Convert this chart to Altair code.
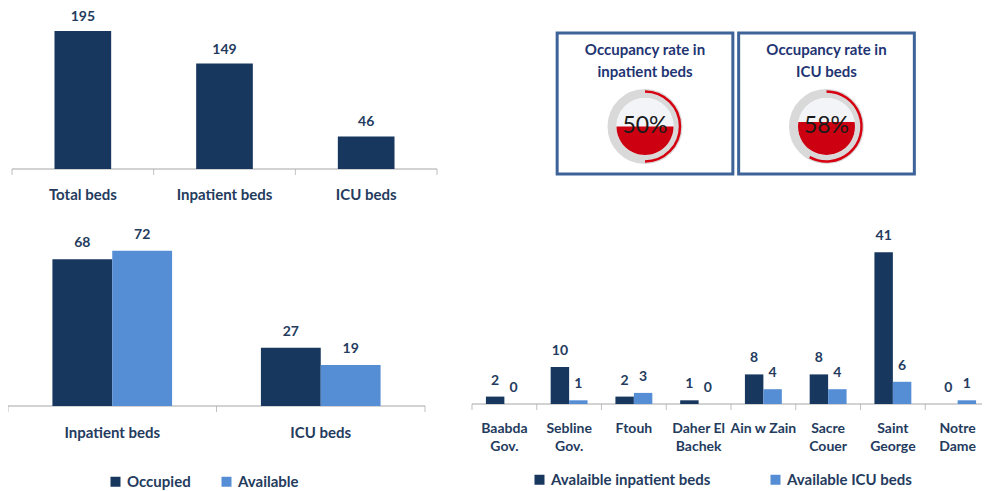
import math
import altair as alt
import pandas as pd

# ---------------- data ----------------
summary_cats = ["Total beds", "Inpatient beds", "ICU beds"]
summary_vals = [195, 149, 46]

status_groups = ["Inpatient beds", "ICU beds"]
status_names = ["Occupied", "Available"]
occupied_vals = [68, 27]
available_vals = [72, 19]

hospitals = ["Baabda\nGov.", "Sebline\nGov.", "Ftouh", "Daher El\nBachek",
             "Ain w Zain", "Sacre\nCouer", "Saint\nGeorge", "Notre\nDame"]
series_names = ["Avalaible inpatient beds", "Available ICU beds"]
inpatient_avail = [2, 10, 2, 1, 8, 8, 41, 0]
icu_avail = [0, 1, 3, 0, 4, 4, 6, 1]

gauge_titles = ["Occupancy rate in\ninpatient beds", "Occupancy rate in\nICU beds"]
gauge_rates = [50, 58]

# ---------------- style ----------------
FONT = "Lato"
DARK = "#17375E"
LIGHT = "#558ED5"
TEXT = "#243B5E"
TITLE = "#1F3573"
AXIS = "#A6A6A6"
BOX = "#3D6399"
W, H = 974, 483

VALUE_STYLE = dict(font=FONT, fontSize=14, fontWeight="bold", color=TEXT, baseline="middle")


def cat_style(size):
    return dict(font=FONT, fontSize=size, fontWeight="bold", color=TEXT, baseline="top",
                lineBreak="\n", lineHeight=18)


def axis_layers(n, x_range, ys):
    bx = alt.Scale(domain=[0, n], range=x_range)
    one = pd.DataFrame({"b": [0]})
    bounds = pd.DataFrame({"b": list(range(n + 1))})
    line = alt.Chart(one).mark_rule(color=AXIS, strokeWidth=1).encode(
        x=alt.XDatum(0, type="quantitative", scale=bx, axis=None),
        x2=alt.X2Datum(n),
        y=alt.YDatum(0, type="quantitative", scale=ys, axis=None),
    )
    ticks = alt.Chart(bounds).mark_tick(orient="vertical", size=6, thickness=1,
                                         color=AXIS, yOffset=3).encode(
        x=alt.X("b:Q", scale=bx, axis=None),
        y=alt.YDatum(0, type="quantitative", scale=ys, axis=None),
    )
    return [line, ticks]


layers = []

# ---------- top-left: totals ----------
tl_df = pd.DataFrame({"cat": summary_cats, "beds": summary_vals})
tl_x = alt.Scale(domain=summary_cats, range=[4, 429], paddingInner=0.6, paddingOuter=0.3)
tl_y = alt.Scale(domain=[0, 200], range=[161, 19.4])
layers += axis_layers(3, [4, 429], tl_y)
layers.append(alt.Chart(tl_df).mark_bar(color=DARK).encode(
    x=alt.X("cat:N", scale=tl_x, axis=None),
    y=alt.Y("beds:Q", scale=tl_y, axis=None)))
layers.append(alt.Chart(tl_df).mark_text(dy=-14, **VALUE_STYLE).encode(
    x=alt.X("cat:N", scale=tl_x, axis=None),
    y=alt.Y("beds:Q", scale=tl_y, axis=None),
    text="beds:Q"))
layers.append(alt.Chart(tl_df).mark_text(dy=19, **cat_style(15)).encode(
    x=alt.X("cat:N", scale=tl_x, axis=None),
    y=alt.YDatum(0, type="quantitative", scale=tl_y, axis=None),
    text="cat:N"))


# ---------- grouped panels ----------
def grouped(groups, names, a_vals, b_vals, x_range, pin, y_dom, y_range, dy_cat, cat_size,
            legend):
    rows = []
    for g, a, b in zip(groups, a_vals, b_vals):
        rows.append({"grp": g, "series": names[0], "beds": a})
        rows.append({"grp": g, "series": names[1], "beds": b})
    df = pd.DataFrame(rows)
    gdf = pd.DataFrame({"grp": groups})
    xs = alt.Scale(domain=groups, range=x_range, paddingInner=pin, paddingOuter=pin / 2)
    ys = alt.Scale(domain=y_dom, range=y_range)
    xo = alt.Scale(domain=names, paddingInner=0, paddingOuter=0)
    xo_pt = alt.Scale(type="point", domain=names, padding=0.5)
    out = axis_layers(len(groups), x_range, ys)
    out.append(alt.Chart(df).mark_bar().encode(
        x=alt.X("grp:N", scale=xs, axis=None),
        xOffset=alt.XOffset("series:N", scale=xo),
        y=alt.Y("beds:Q", scale=ys, axis=None),
        color=alt.Color("series:N", scale=alt.Scale(domain=names, range=[DARK, LIGHT]),
                        legend=legend)))
    out.append(alt.Chart(df).mark_text(dy=-16, **VALUE_STYLE).encode(
        x=alt.X("grp:N", scale=xs, axis=None),
        xOffset=alt.XOffset("series:N", scale=xo_pt),
        y=alt.Y("beds:Q", scale=ys, axis=None),
        text="beds:Q"))
    out.append(alt.Chart(gdf).mark_text(dy=dy_cat, **cat_style(cat_size)).encode(
        x=alt.X("grp:N", scale=xs, axis=None),
        y=alt.YDatum(0, type="quantitative", scale=ys, axis=None),
        text="grp:N"))
    return out


def make_legend(x, y, colpad):
    return alt.Legend(orient="none", legendX=x, legendY=y, direction="horizontal",
                      title=None, symbolType="square", symbolSize=100,
                      symbolStrokeWidth=0, labelFont=FONT, labelFontSize=15,
                      labelFontWeight="bold", labelColor=TEXT, columnPadding=colpad,
                      labelOffset=4, padding=0)


layers += grouped(status_groups, status_names, occupied_vals, available_vals,
                  [0, 417], 0.426, [0, 80], [398, 225.4], 20, 15,
                  make_legend(100, 466, 28))
layers += grouped(hospitals, series_names, inpatient_avail, icu_avail,
                  [464, 982], 0.43, [0, 45], [396, 229.5], 18, 14,
                  make_legend(524, 464, 57))


# ---------- gauges ----------
def fill_path(rate):
    v = rate / 100.0
    d = 1 - 2 * v
    w = math.sqrt(max(0.0, 1 - d * d))
    large = 1 if v > 0.5 else 0
    return f"M{-w:.4f},{d:.4f}A1,1 0 {large},0 {w:.4f},{d:.4f}Z"


def arc_path(rate):
    a = 2 * math.pi * rate / 100.0
    large = 1 if rate > 50 else 0
    return f"M0,-1A1,1 0 {large},1 {math.sin(a):.4f},{-math.cos(a):.4f}"


g_df = pd.DataFrame({
    "idx": list(range(len(gauge_titles))),
    "title": gauge_titles,
    "rate": gauge_rates,
})
g_df["fillp"] = [fill_path(r) for r in gauge_rates]
g_df["arcp"] = [arc_path(r) for r in gauge_rates]

gx = alt.Scale(domain=[0, 1], range=[637, 818.5])
gy = alt.Scale(domain=[0, 1], range=[166, 25])
GAUGE_Y = 0.337
TITLE_Y = 0.929
gxe = alt.X("idx:Q", scale=gx, axis=None)
gye = alt.YDatum(GAUGE_Y, type="quantitative", scale=gy, axis=None)

layers.append(alt.Chart(g_df).mark_rect(fill="white", stroke=BOX, strokeWidth=3).encode(
    x=alt.X("lo:Q", scale=gx, axis=None), x2="hi:Q",
    y=alt.YDatum(0, type="quantitative", scale=gy, axis=None), y2=alt.Y2Datum(1),
).transform_calculate(lo="datum.idx - 0.484", hi="datum.idx + 0.484"))
layers.append(alt.Chart(g_df).mark_text(font=FONT, fontSize=15, fontWeight="bold", color=TITLE,
                                        baseline="top", lineBreak="\n", lineHeight=22).encode(
    x=gxe, y=alt.YDatum(TITLE_Y, type="quantitative", scale=gy, axis=None), text="title:N"))
layers.append(alt.Chart(g_df).mark_point(shape="circle", filled=False, size=66 ** 2,
                                         strokeWidth=9, color="#D9D9D9", opacity=1).encode(
    x=gxe, y=gye))
layers.append(alt.Chart(g_df).mark_point(shape="circle", filled=True, size=57 ** 2,
                                         color="#F2F4F8", opacity=1, strokeWidth=0).encode(
    x=gxe, y=gye))
layers.append(alt.Chart(g_df).mark_point(filled=True, size=57 ** 2, color="#CC0010",
                                         opacity=1, strokeWidth=0).encode(
    x=gxe, y=gye, shape=alt.Shape("fillp:N", scale=None)))
layers.append(alt.Chart(g_df).mark_point(filled=False, size=70 ** 2, strokeWidth=2.5,
                                         color="#D60010", opacity=1).encode(
    x=gxe, y=gye, shape=alt.Shape("arcp:N", scale=None)))
layers.append(alt.Chart(g_df).mark_text(font=FONT, fontSize=23, color="#1A1A1A",
                                        baseline="middle").encode(
    x=gxe, y=gye, text="pct:N").transform_calculate(pct="datum.rate + '%'"))

chart = alt.layer(*layers).resolve_scale(
    x="independent", y="independent", color="independent",
    xOffset="independent", shape="independent",
).properties(
    width=W, height=H, padding=0, autosize=alt.AutoSizeParams(type="none"),
    background="white",
).configure_view(strokeWidth=0)

chart.save("out.html", embed_options={"renderer": "svg", "actions": False})
